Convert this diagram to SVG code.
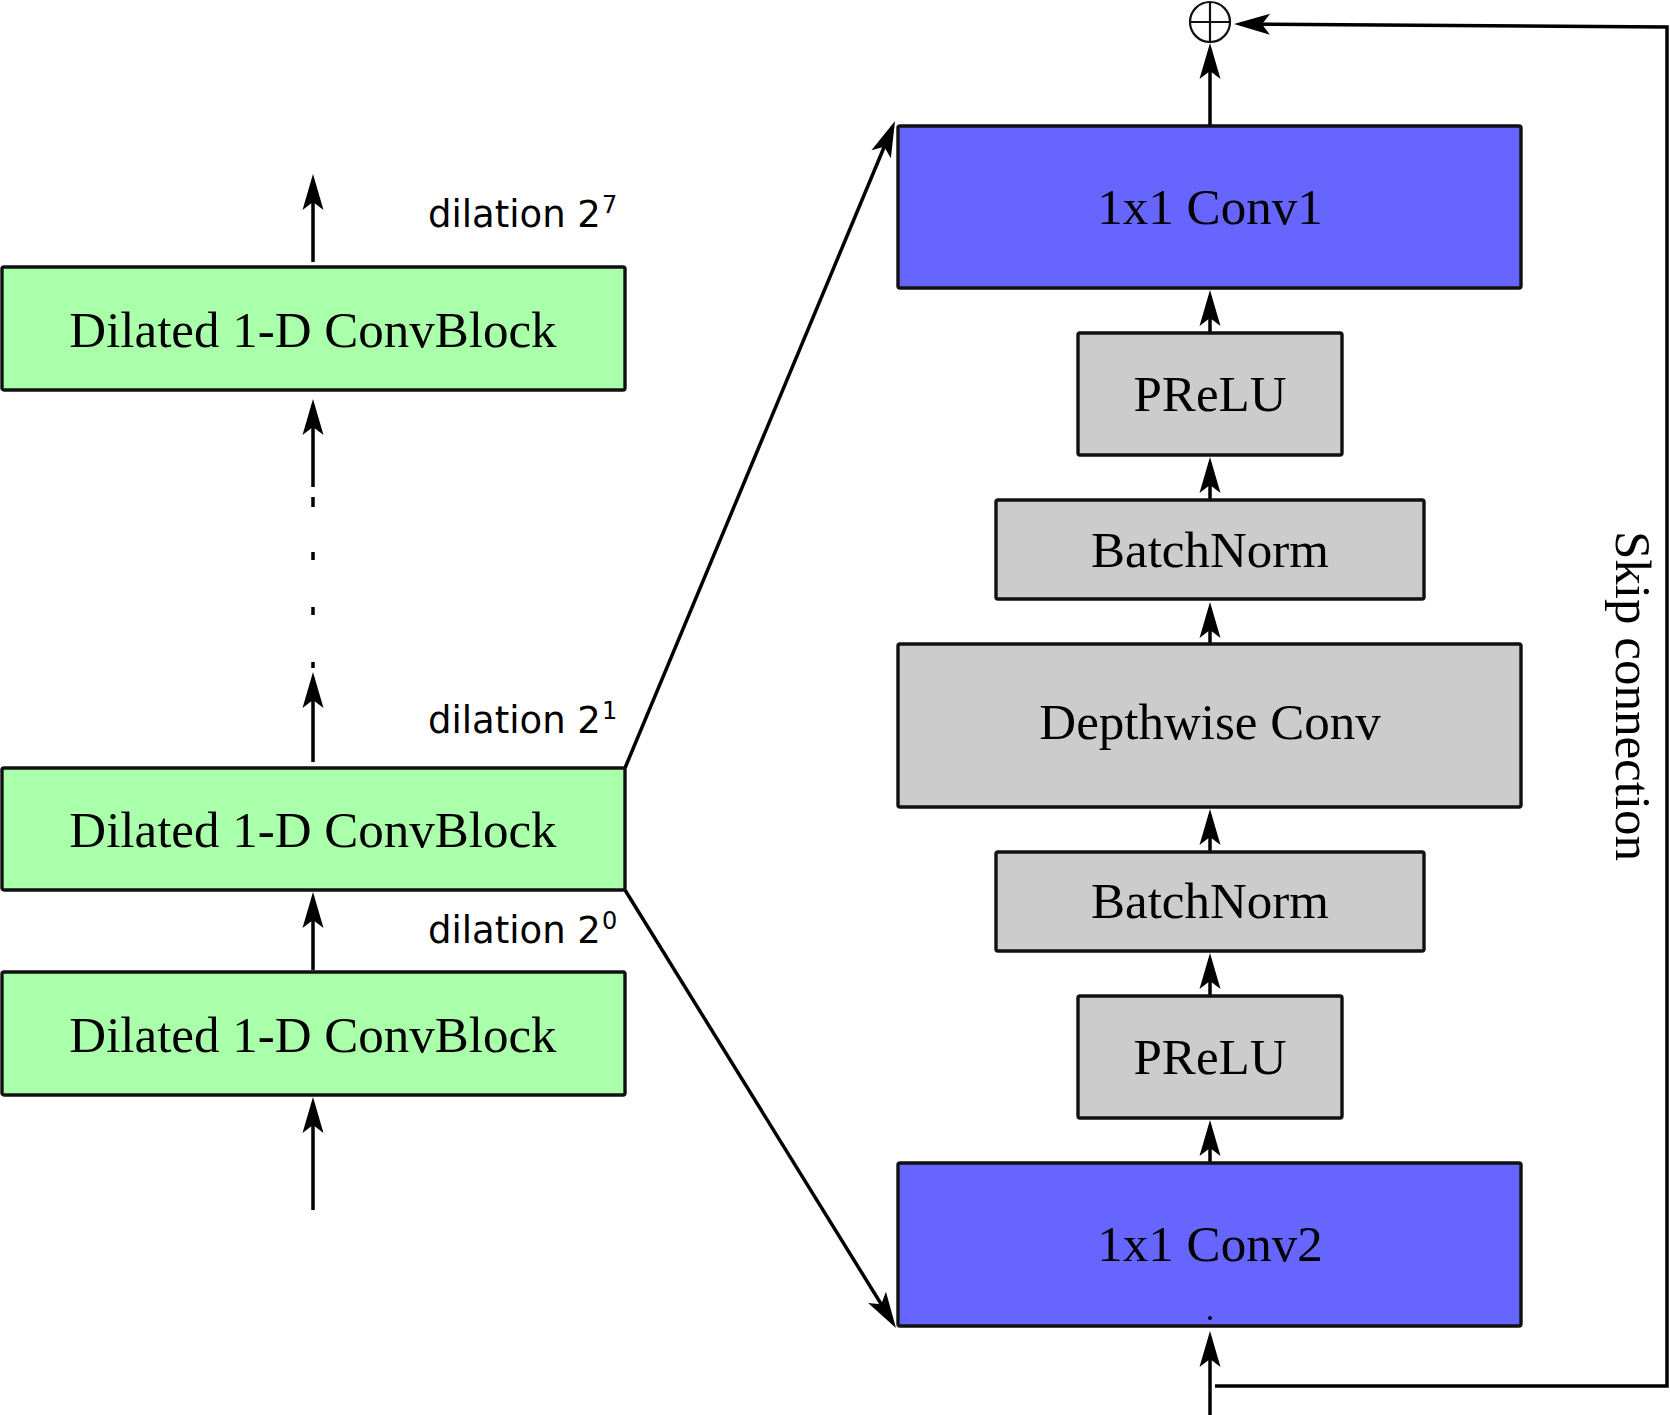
<svg xmlns="http://www.w3.org/2000/svg" width="1670" height="1415" viewBox="0 0 1670 1415">
<defs>
<style>
.box{stroke:#111;stroke-width:3.4}
.green{fill:#aaffaa}
.blue{fill:#6666ff}
.gray{fill:#cccccc}
.lbl{font-family:"Liberation Serif","Times New Roman",serif;font-size:51px;fill:#000;text-anchor:middle}
.dil{font-family:"DejaVu Sans",sans-serif;font-size:37px;fill:#000}
.sup{font-size:24px}
.ln{fill:none;stroke:#000;stroke-width:3.5}
.arr{marker-end:url(#ah)}
</style>
<marker id="ah" markerUnits="userSpaceOnUse" markerWidth="40" markerHeight="24" refX="31" refY="11" orient="auto" overflow="visible">
<path d="M1,0.5 L37,11 L1,21.5 L9,11 Z" fill="#000"/>
</marker>
</defs>
<rect width="1670" height="1415" fill="#fff"/>

<g id="connectors">
<line class="ln arr" x1="313" y1="262" x2="313" y2="180"/>
<line class="ln arr" x1="313" y1="487" x2="313" y2="405"/>
<line class="ln" x1="313" y1="497" x2="313" y2="507"/>
<line class="ln" x1="313" y1="552" x2="313" y2="560"/>
<line class="ln" x1="313" y1="607" x2="313" y2="615"/>
<line class="ln" x1="313" y1="662" x2="313" y2="668"/>
<line class="ln arr" x1="313" y1="762" x2="313" y2="678"/>
<line class="ln arr" x1="313" y1="970" x2="313" y2="898"/>
<line class="ln arr" x1="313" y1="1210" x2="313" y2="1103"/>
<line class="ln arr" x1="625" y1="768" x2="892.7" y2="126.5"/>
<line class="ln arr" x1="625" y1="890" x2="892.8" y2="1322.9"/>
<line class="ln arr" x1="1210" y1="1415" x2="1210" y2="1337"/>
<line class="ln arr" x1="1210" y1="1163" x2="1210" y2="1126"/>
<line class="ln arr" x1="1210" y1="996" x2="1210" y2="959"/>
<line class="ln arr" x1="1210" y1="852" x2="1210" y2="815"/>
<line class="ln arr" x1="1210" y1="644" x2="1210" y2="608"/>
<line class="ln arr" x1="1210" y1="500" x2="1210" y2="463"/>
<line class="ln arr" x1="1210" y1="333" x2="1210" y2="296"/>
<line class="ln arr" x1="1210" y1="126" x2="1210" y2="49"/>
<polyline class="ln arr" points="1215,1386 1667,1386 1667,27 1240,24"/>
</g>

<g id="sum">
<circle cx="1210" cy="22" r="20" fill="#fff" stroke="#111" stroke-width="2.2"/>
<line x1="1190" y1="22" x2="1230" y2="22" stroke="#111" stroke-width="2.2"/>
<line x1="1210" y1="2" x2="1210" y2="42" stroke="#111" stroke-width="2.2"/>
</g>

<g id="block-top">
<rect class="box green" x="2" y="267" width="623" height="123" rx="2"/>
<text class="lbl" x="313" y="347">Dilated 1-D ConvBlock</text>
</g>
<g id="block-mid">
<rect class="box green" x="2" y="768" width="623" height="122" rx="2"/>
<text class="lbl" x="313" y="847">Dilated 1-D ConvBlock</text>
</g>
<g id="block-bot">
<rect class="box green" x="2" y="972" width="623" height="123" rx="2"/>
<text class="lbl" x="313" y="1052">Dilated 1-D ConvBlock</text>
</g>

<g id="dil7"><text class="dil" x="428" y="227">dilation 2<tspan class="sup" dx="1" dy="-14">7</tspan></text></g>
<g id="dil1"><text class="dil" x="428" y="733">dilation 2<tspan class="sup" dx="1" dy="-14">1</tspan></text></g>
<g id="dil0"><text class="dil" x="428" y="943">dilation 2<tspan class="sup" dx="1" dy="-14">0</tspan></text></g>

<g id="conv1">
<rect class="box blue" x="898" y="126" width="623" height="162" rx="2"/>
<text class="lbl" x="1210" y="224">1x1 Conv1</text>
</g>
<g id="prelu-top">
<rect class="box gray" x="1078" y="333" width="264" height="122" rx="2"/>
<text class="lbl" x="1210" y="411">PReLU</text>
</g>
<g id="bn-top">
<rect class="box gray" x="996" y="500" width="428" height="99" rx="2"/>
<text class="lbl" x="1210" y="567">BatchNorm</text>
</g>
<g id="depthwise">
<rect class="box gray" x="898" y="644" width="623" height="163" rx="2"/>
<text class="lbl" x="1210" y="739">Depthwise Conv</text>
</g>
<g id="bn-bot">
<rect class="box gray" x="996" y="852" width="428" height="99" rx="2"/>
<text class="lbl" x="1210" y="918">BatchNorm</text>
</g>
<g id="prelu-bot">
<rect class="box gray" x="1078" y="996" width="264" height="122" rx="2"/>
<text class="lbl" x="1210" y="1074">PReLU</text>
</g>
<g id="conv2">
<rect class="box blue" x="898" y="1163" width="623" height="163" rx="2"/>
<text class="lbl" x="1210" y="1261">1x1 Conv2</text>
<circle cx="1210" cy="1318" r="2" fill="#000"/>
</g>

<g id="skip-label">
<text class="lbl" transform="translate(1616,696) rotate(90)" x="0" y="0">Skip connection</text>
</g>
</svg>
